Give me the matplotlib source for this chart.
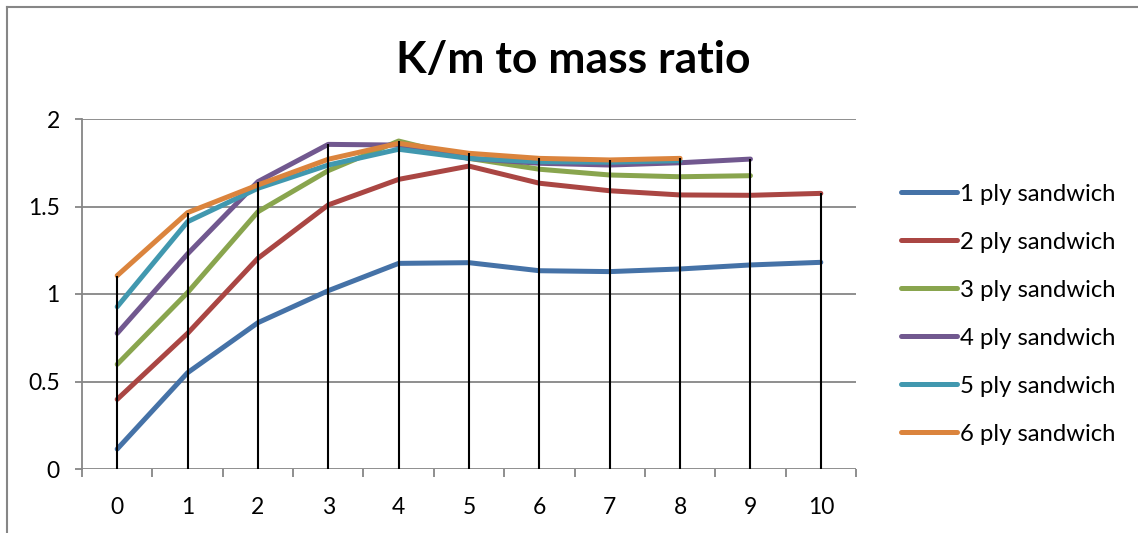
import matplotlib
matplotlib.use("Agg")
import matplotlib.pyplot as plt
from matplotlib.lines import Line2D
import numpy as np

# Data
categories = [0, 1, 2, 3, 4, 5, 6, 7, 8, 9, 10]
series_names = ["1 ply sandwich", "2 ply sandwich", "3 ply sandwich",
                "4 ply sandwich", "5 ply sandwich", "6 ply sandwich"]
ply1 = [0.114, 0.55, 0.836, 1.019, 1.175, 1.179, 1.133, 1.128, 1.143, 1.166, 1.181]
ply2 = [0.398, 0.775, 1.204, 1.509, 1.655, 1.731, 1.633, 1.59, 1.566, 1.564, 1.575]
ply3 = [0.598, 1.008, 1.47, 1.705, 1.874, 1.775, 1.713, 1.68, 1.67, 1.676]
ply4 = [0.775, 1.229, 1.642, 1.855, 1.851, 1.775, 1.747, 1.737, 1.75, 1.771]
ply5 = [0.927, 1.413, 1.604, 1.737, 1.827, 1.775, 1.756, 1.753, 1.762]
ply6 = [1.105, 1.465, 1.623, 1.77, 1.861, 1.804, 1.775, 1.766, 1.775]
all_series = [ply1, ply2, ply3, ply4, ply5, ply6]
colors = ["#4572A7", "#AA4643", "#89A54E", "#71588F", "#4198AF", "#DB843D"]
y_ticks = [0, 0.5, 1, 1.5, 2]
y_tick_labels = ["0", "0.5", "1", "1.5", "2"]
title = "K/m to mass ratio"

W, H = 1138, 533
fig = plt.figure(figsize=(W / 100, H / 100), dpi=100)
fig.patch.set_facecolor("white")

grid_c = "#868686"
font = ["Lato", "DejaVu Sans"]

# Chart area frame (left and top edges)
fig.add_artist(Line2D([7 / W, 7 / W], [0, 1 - 6.5 / H], transform=fig.transFigure,
                      color=grid_c, lw=1.5))
fig.add_artist(Line2D([7 / W, 1], [1 - 6.5 / H, 1 - 6.5 / H], transform=fig.transFigure,
                      color=grid_c, lw=1.5))

left, right = 82 / W, 856 / W
bottom, top = 1 - 469 / H, 1 - 119 / H
ax = fig.add_axes([left, bottom, right - left, top - bottom])

ax.set_xlim(-0.5, 10.5)
ax.set_ylim(0, 2)

# Gridlines
for yv in y_ticks:
    ax.axhline(yv, color=grid_c, lw=1.3, zorder=1)

for name, vals, c in zip(series_names, all_series, colors):
    ax.plot(categories[:len(vals)], vals, color=c, lw=3.6, label=name,
            solid_capstyle="round", solid_joinstyle="round", zorder=3)

# Drop lines from the highest point of each category to the axis
tops = [max(s[i] for s in all_series if i < len(s)) for i in range(len(categories))]
ax.vlines(categories, 0, tops, colors="black", lw=1.5, zorder=4)

for sp in ["top", "right", "bottom"]:
    ax.spines[sp].set_visible(False)
ax.spines["left"].set_color(grid_c)
ax.spines["left"].set_linewidth(1.3)

ax.set_yticks(y_ticks)
ax.set_yticklabels(y_tick_labels)
ax.tick_params(axis="y", direction="out", length=5, width=1.3, color=grid_c,
               pad=11, labelsize=16.5)
ax.set_xticks(categories)
ax.set_xticklabels([str(c) for c in categories])
ax.tick_params(axis="x", length=0, pad=20, labelsize=16.5)
for lab in ax.get_xticklabels() + ax.get_yticklabels():
    lab.set_fontfamily(font)

# Category separators on the x axis
ax.set_xticks(np.arange(-0.5, 11, 1), minor=True)
ax.tick_params(axis="x", which="minor", direction="out", length=6, width=1.3, color=grid_c)

fig.text(573 / W, 1 - 60 / H, title, ha="center", va="center", fontsize=32,
         fontweight="bold", family=font)

handles = [Line2D([0], [0], color=c, lw=3.6, solid_capstyle="round") for c in colors]
fig.legend(handles, series_names, loc="upper left", bbox_to_anchor=(891 / W, 1 - 174 / H),
           frameon=False, prop={"family": font, "size": 17.2},
           handlelength=2.35, handletextpad=0.15, labelspacing=1.13, borderaxespad=0)

fig.savefig("out.png", dpi=100, facecolor="white")
